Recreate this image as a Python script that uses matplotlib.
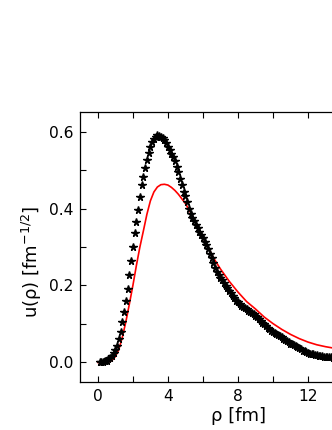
import matplotlib
matplotlib.use("Agg")
import matplotlib.pyplot as plt
from matplotlib.ticker import MultipleLocator, FuncFormatter

plt.rcParams['font.family'] = ['DejaVu Sans']
plt.rcParams['mathtext.fontset'] = 'dejavusans'

# extracted data (black points)
rho_data = [0.1, 0.2, 0.3, 0.4, 0.5, 0.6, 0.7, 0.8, 0.9, 1.0,
            1.1, 1.2, 1.3, 1.4, 1.5, 1.6, 1.7, 1.8, 1.9, 2.0,
            2.1, 2.2, 2.3, 2.4, 2.5, 2.6, 2.7, 2.8, 2.9, 3.0,
            3.1, 3.2, 3.3, 3.4, 3.5, 3.6, 3.7, 3.8, 3.9, 4.0,
            4.1, 4.2, 4.3, 4.4, 4.5, 4.6, 4.7, 4.8, 4.9, 5.0,
            5.1, 5.2, 5.3, 5.4, 5.5, 5.6, 5.7, 5.8, 5.9, 6.0,
            6.1, 6.2, 6.3, 6.4, 6.5, 6.6, 6.7, 6.8, 6.9, 7.0,
            7.1, 7.2, 7.3, 7.4, 7.5, 7.6, 7.7, 7.8, 7.9, 8.0,
            8.1, 8.2, 8.3, 8.4, 8.5, 8.6, 8.7, 8.8, 8.9, 9.0,
            9.1, 9.2, 9.3, 9.4, 9.5, 9.6, 9.7, 9.8, 9.9, 10.0,
            10.1, 10.2, 10.3, 10.4, 10.5, 10.6, 10.7, 10.8, 10.9, 11.0,
            11.1, 11.2, 11.3, 11.4, 11.5, 11.6, 11.7, 11.8, 11.9, 12.0,
            12.1, 12.2, 12.3, 12.4, 12.5, 12.6, 12.7, 12.8, 12.9, 13.0,
            13.1, 13.2, 13.3, 13.4, 13.5, 13.6, 13.7, 13.8]
u_data = [0.000, 0.001, 0.002, 0.003, 0.005, 0.008, 0.012, 0.017, 0.025, 0.033,
          0.043, 0.060, 0.080, 0.104, 0.132, 0.160, 0.190, 0.228, 0.263, 0.300,
          0.337, 0.365, 0.397, 0.430, 0.460, 0.483, 0.506, 0.527, 0.545, 0.561,
          0.572, 0.581, 0.587, 0.590, 0.589, 0.587, 0.583, 0.577, 0.570, 0.561,
          0.551, 0.542, 0.533, 0.523, 0.509, 0.495, 0.478, 0.460, 0.442, 0.432,
          0.418, 0.400, 0.386, 0.376, 0.368, 0.358, 0.350, 0.340, 0.332, 0.324,
          0.314, 0.304, 0.294, 0.282, 0.271, 0.259, 0.246, 0.236, 0.228, 0.220,
          0.213, 0.206, 0.199, 0.193, 0.187, 0.180, 0.173, 0.167, 0.161, 0.156,
          0.152, 0.147, 0.144, 0.141, 0.138, 0.135, 0.132, 0.128, 0.125, 0.121,
          0.118, 0.113, 0.108, 0.103, 0.099, 0.094, 0.090, 0.086, 0.083, 0.080,
          0.077, 0.075, 0.072, 0.068, 0.065, 0.062, 0.059, 0.055, 0.052, 0.049,
          0.047, 0.045, 0.042, 0.040, 0.037, 0.034, 0.031, 0.029, 0.027, 0.025,
          0.023, 0.022, 0.021, 0.020, 0.019, 0.018, 0.017, 0.016, 0.015, 0.014,
          0.014, 0.013, 0.013, 0.012, 0.012, 0.011, 0.011, 0.010]

# model curve (red)
rho_model = [0.0, 0.4, 0.6, 0.8, 1.0, 1.2, 1.4, 1.6, 1.8, 2.0,
             2.2, 2.4, 2.6, 2.8, 3.0, 3.2, 3.4, 3.6, 3.8, 4.0,
             4.2, 4.4, 4.6, 4.8, 5.0, 5.4, 5.8, 6.2, 6.6, 7.0,
             7.5, 8.0, 8.5, 9.0, 9.5, 10.0, 10.5, 11.0, 11.5, 12.0,
             12.5, 13.0, 13.5, 14.0, 15.0, 16.0]
u_model = [0.000, 0.000, 0.001, 0.005, 0.015, 0.034, 0.066, 0.106, 0.152, 0.200,
           0.252, 0.300, 0.342, 0.385, 0.420, 0.443, 0.456, 0.462, 0.463, 0.461,
           0.455, 0.447, 0.437, 0.425, 0.413, 0.381, 0.345, 0.307, 0.272, 0.243,
           0.211, 0.183, 0.158, 0.139, 0.118, 0.101, 0.086, 0.073, 0.062, 0.053,
           0.046, 0.041, 0.037, 0.033, 0.027, 0.022]

fig = plt.figure(figsize=(3.32, 4.30), dpi=100)
ax = fig.add_axes([0.242, 0.1123, 0.902, 0.6265])

ax.plot(rho_model, u_model, color="red", lw=1.2, zorder=2)
ax.plot(rho_data, u_data, linestyle="none", marker="*", ms=5.5,
        color="black", mec="black", zorder=3)

ax.set_xlim(-1, 16.1)
ax.set_ylim(-0.05, 0.65)
ax.xaxis.set_major_locator(MultipleLocator(4))
ax.xaxis.set_minor_locator(MultipleLocator(2))
ax.xaxis.set_major_formatter(FuncFormatter(lambda v, p: "%d" % v if v < 14 else ""))
ax.yaxis.set_major_locator(MultipleLocator(0.2))
ax.yaxis.set_minor_locator(MultipleLocator(0.1))
ax.yaxis.set_major_formatter(matplotlib.ticker.FormatStrFormatter("%.1f"))
ax.tick_params(which="both", direction="in", top=True, right=True,
               length=4, width=0.8, labelsize=11.2, pad=5)
for s in ax.spines.values():
    s.set_linewidth(0.9)

ax.set_xlabel("ρ [fm]", fontsize=13)
ax.set_ylabel("u(ρ) [fm$^{-1/2}$]", fontsize=13)
ax.xaxis.set_label_coords(0.528, -0.094)
ax.yaxis.set_label_coords(-0.121, 0.443)

fig.savefig("out.png", dpi=100)
